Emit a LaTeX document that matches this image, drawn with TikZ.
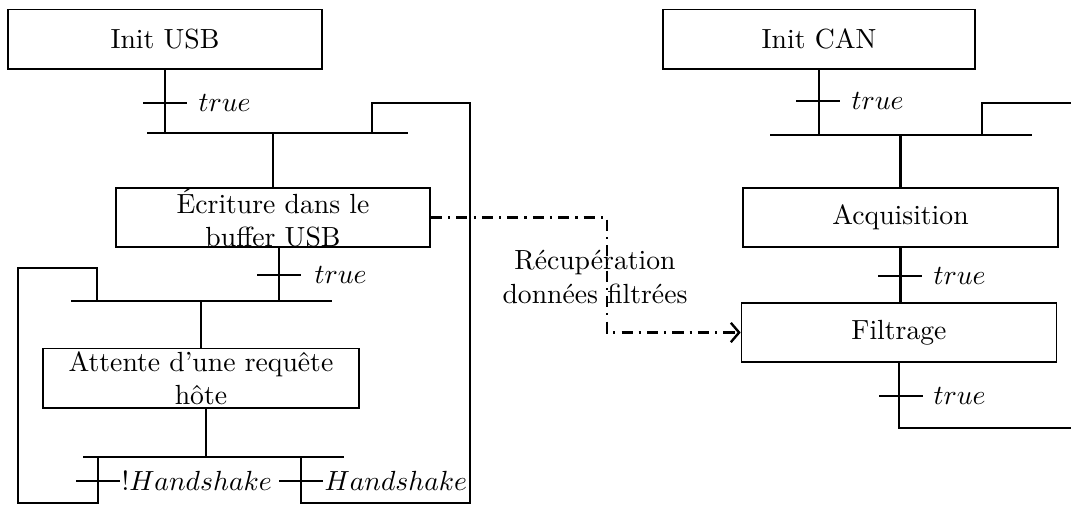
\documentclass[tikz,border=0pt]{standalone}
\usetikzlibrary{arrows.meta}
\begin{document}
\begin{tikzpicture}[x=0.0127cm,y=-0.0127cm,
  box/.style={draw,line width=0.55pt,inner sep=0pt,minimum height=0.755cm,align=center},
  link/.style={line width=0.85pt},
  tickmark/.style={line width=0.85pt},
  cond/.style={anchor=west,inner sep=0pt},
  flow/.style={line width=0.85pt,dash pattern=on 4pt off 2.2pt on 0.8pt off 2.2pt,-{Straight Barb[length=3pt,width=7pt,line width=0.85pt]}}]
\useasboundingbox (0,0) rectangle (1071,505);
\clip (0,0) rectangle (1071,505);

% ---- USB side ----
\node[box,minimum width=3.99cm] (initusb) at (165,39) {Init USB};
\node[box,minimum width=3.99cm] (ecr) at (273,217.5) {Écriture dans le\\buffer USB};
\node[box,minimum width=4.01cm] (att) at (201,378) {Attente d'une requête\\hôte};

\coordinate (b1L) at (147,133);
\coordinate (b1R) at (408,133);
\coordinate (b2L) at (71,301);
\coordinate (b2R) at (332,301);
\coordinate (b3L) at (83,457);
\coordinate (b3R) at (344,457);

\coordinate (t1) at (165,103);
\coordinate (t2) at (279,275);
\coordinate (t3) at (98,481);
\coordinate (t4) at (301,481);

\draw[link] (initusb.south) -- (initusb.south |- b1L);
\draw[link] (b1L) -- (b1R);
\draw[tickmark] (t1) +(-22,0) -- +(22,0);
\node[cond] (c1) at (198,103) {$true$};

\draw[link] (ecr.north |- b1L) -- (ecr.north);
\coordinate (r1) at (372,133);
\coordinate (r2) at (470,103);
\coordinate (r3) at (470,503);
\draw[link] (r1) |- (r2) -- (r3) -| (t4 |- b3L);

\draw[link] ([xshift=2.2pt]ecr.south) -- ([xshift=2.2pt]ecr.south |- b2L);
\draw[tickmark] (t2) +(-22,0) -- +(22,0);
\node[cond] (c2) at (314,275) {$true$};
\draw[link] (b2L) -- (b2R);

\coordinate (l1) at (97,301);
\coordinate (l2) at (18,268);
\coordinate (l3) at (18,503);
\draw[link] (l1) |- (l2) -- (l3) -| (t3 |- b3L);

\draw[link] (att.north |- b2L) -- (att.north);
\draw[link] ([xshift=1.8pt]att.south) -- ([xshift=1.8pt]att.south |- b3L);
\draw[link] (b3L) -- (b3R);
\draw[tickmark] (t3) +(-22,0) -- +(22,0);
\draw[tickmark] (t4) +(-22,0) -- +(22,0);
\node[cond] (c3) at (121,481) {!$Handshake$};
\node[cond] (c4) at (324,481) {$Handshake$};

% ---- CAN side ----
\node[box,minimum width=3.96cm] (initcan) at (819,39) {Init CAN};
\node[box,minimum width=4.0cm] (acq) at (900.5,217.5) {Acquisition};
\node[box,minimum width=4.0cm] (filt) at (899,332.5) {Filtrage};

\coordinate (cbL) at (770,135);
\coordinate (cbR) at (1032,135);
\coordinate (ct1) at (818,101);
\coordinate (ct2) at (900,276);
\coordinate (ct3) at (901,396);

\draw[link] (initcan.south) -- (initcan.south |- cbL);
\draw[tickmark] (ct1) +(-22,0) -- +(22,0);
\node[cond] (cc1) at (851,101) {$true$};
\draw[link] (cbL) -- (cbR);
\coordinate (cr1) at (982,135);
\coordinate (cr2) at (1090,103);
\draw[link] (cr1) |- (cr2);

\draw[link] (acq.north |- cbL) -- (acq.north);
\draw[link] (acq.south) -- (acq.south |- filt.north);
\draw[tickmark] (ct2) +(-22,0) -- +(22,0);
\node[cond] (cc2) at (933,276) {$true$};

\coordinate (cr3) at (1090,428);
\draw[link] (filt.south) |- (cr3);
\draw[tickmark] (ct3) +(-22,0) -- +(22,0);
\node[cond] (cc3) at (933,396) {$true$};

% ---- data flow ----
\coordinate (m) at (607,0);
\draw[flow] (ecr.east) -- (ecr.east -| m) -- (m |- filt.west) -- (filt.west);
\node[align=center] (lbl) at (595,277) {Récupération\\données filtrées};
\end{tikzpicture}
\end{document}
